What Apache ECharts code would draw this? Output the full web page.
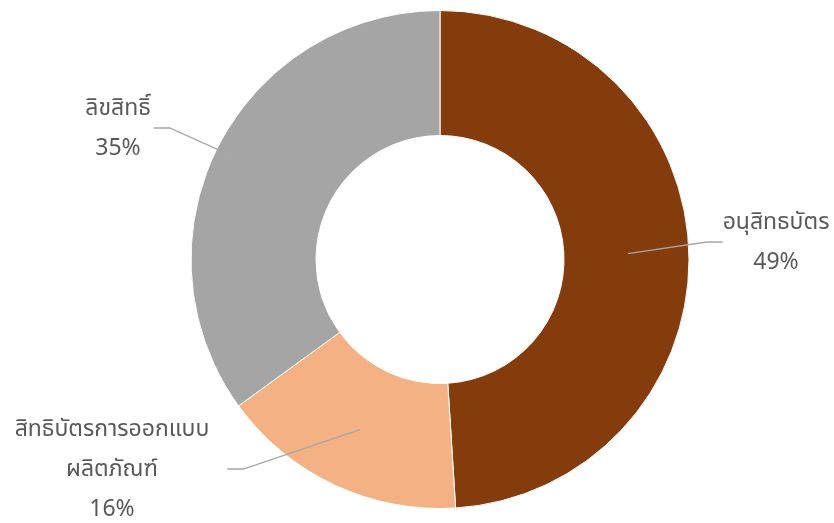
<!DOCTYPE html>
<html><head><meta charset="utf-8">
<script src="https://cdn.jsdelivr.net/npm/echarts@6/dist/echarts.min.js"></script>
<style>html,body{margin:0;padding:0;background:#fff}#c{width:834px;height:523px}</style>
</head><body><div id="c"></div>
<script>
const categories = ['อนุสิทธบัตร', 'สิทธิบัตรการออกแบบ\nผลิตภัณฑ์', 'ลิขสิทธิ์'];
const values = [49, 16, 35];
const colors = ['#843C0C', '#F4B183', '#A5A5A5'];
const labelPos = [[776, 242], [112, 469], [118, 128]];
const labelPad = [[0, 0, 0, 0], [0, 18, 0, 18], [0, 3, 0, 3]];

const chart = echarts.init(document.getElementById('c'));
const data = categories.map((n, i) => ({ name: n, value: values[i], itemStyle: { color: colors[i] } }));
const center = [440, 259.5];
chart.setOption({
  animation: false,
  series: [
    {
      type: 'pie', center: center, radius: [124, 249], startAngle: 90, clockwise: true, z: 2,
      silent: true, label: { show: false }, labelLine: { show: false },
      itemStyle: { borderColor: '#fff', borderWidth: 1 },
      data: data
    },
    {
      type: 'pie', center: center, radius: [0, 188], startAngle: 90, clockwise: true, z: 5,
      silent: true,
      itemStyle: { color: 'rgba(0,0,0,0)' },
      data: categories.map((n, i) => ({ name: n, value: values[i], label: { padding: labelPad[i] } })),
      label: {
        show: true,
        formatter: p => p.name + '\n' + Math.round(p.percent) + '%',
        fontFamily: 'Noto Sans, Noto Sans Thai, sans-serif', fontSize: 23, color: '#595959',
        lineHeight: 40, align: 'center'
      },
      labelLine: { show: true, length: 20, length2: 16, lineStyle: { color: '#A6A6A6', width: 1.3 } },
      labelLayout: p => ({ x: labelPos[p.dataIndex][0], y: labelPos[p.dataIndex][1], align: 'center', verticalAlign: 'middle' })
    }
  ]
});
</script></body></html>
